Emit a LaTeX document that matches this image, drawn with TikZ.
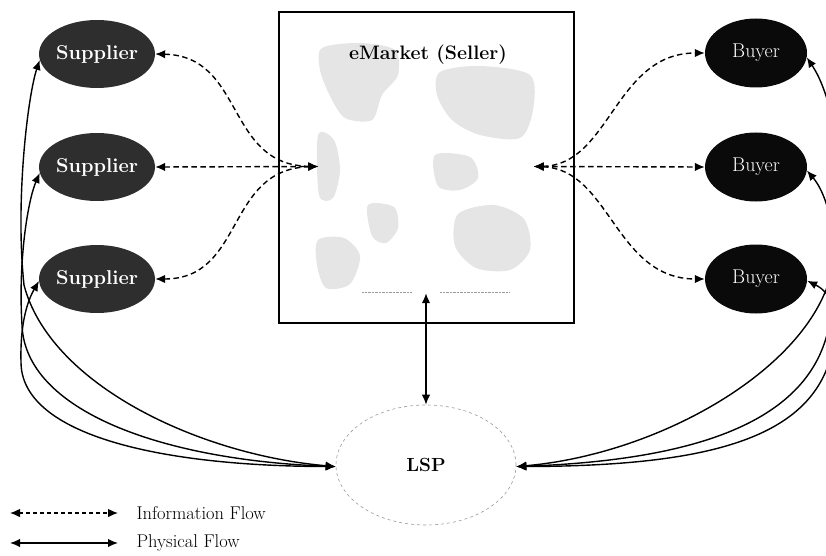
\documentclass[tikz,border=0pt]{standalone}
\usepackage{fontspec}
\usetikzlibrary{arrows.meta,shapes.geometric}
\begin{document}
\begin{tikzpicture}[x=1pt,y=-1pt,
  lbl/.style={font=\fontsize{19}{22}\selectfont},
  supp/.style={ellipse,fill=black!82,text=white,inner sep=0pt,minimum width=102pt,minimum height=68pt,font=\bfseries\fontsize{20}{23}\selectfont},
  buyr/.style={ellipse,fill=black!96,text=white,inner sep=0pt,minimum width=102pt,minimum height=69pt,font=\fontsize{20}{23}\selectfont},
  tipp/.style={{Latex[length=10pt,width=8.5pt]}-{Latex[length=10pt,width=8.5pt]}},
  infoflow/.style={tipp,line width=1.4pt,dash pattern=on 5.5pt off 3.5pt},
  physflow/.style={tipp,line width=1.4pt},
  mapc/.style={fill=black!10}
]
\useasboundingbox (0,0) rectangle (826,556);

% eMarket box and map
\node[draw,line width=1.6pt,minimum width=295pt,minimum height=311pt,inner sep=0pt] (box) at (426.5,167.5) {};
\fill[mapc] plot[smooth cycle] coordinates {(322,48) (360,43) (395,50) (398,75) (382,95) (372,120) (345,118) (330,96) (320,70)};
\fill[mapc] plot[smooth cycle] coordinates {(440,72) (480,66) (530,75) (533,110) (520,138) (480,135) (452,120) (437,95)};
\fill[mapc] plot[smooth cycle] coordinates {(435,155) (470,157) (478,178) (460,190) (438,186)};
\fill[mapc] plot[smooth cycle] coordinates {(318,135) (334,140) (340,170) (333,198) (319,195)};
\fill[mapc] plot[smooth cycle] coordinates {(368,205) (394,207) (398,228) (386,243) (372,236)};
\fill[mapc] plot[smooth cycle] coordinates {(318,240) (344,238) (360,256) (350,284) (326,288) (317,265)};
\fill[mapc] plot[smooth cycle] coordinates {(458,214) (494,205) (524,219) (530,250) (510,270) (476,268) (455,246)};
\draw[black!40,densely dotted] (362,292) -- (412,292) (440,292) -- (510,292);
\node[inner sep=0pt,minimum width=215pt,minimum height=253pt] (map) at (426,166.5) {};
\node[lbl,font=\bfseries\fontsize{19.5}{22}\selectfont] (title) at (428,55) {eMarket (Seller)};

% suppliers and buyers
\node[supp] (s1) at (97,54) {Supplier};
\node[supp] (s2) at (97,167) {Supplier};
\node[supp] (s3) at (97,279) {Supplier};
\node[buyr] (b1) at (756,53) {Buyer};
\node[buyr] (b2) at (756,167) {Buyer};
\node[buyr] (b3) at (756,279) {Buyer};

% LSP
\node[ellipse,draw=black!40,dashed,line width=0.6pt,minimum width=180pt,minimum height=120pt,inner sep=0pt,font=\bfseries\fontsize{19}{22}\selectfont] (lsp) at (426,465) {LSP};

% information flows
\draw[infoflow] (s1.east) .. controls (245,56) and (225,165) .. (map.west);
\draw[infoflow] (s2.east) -- (map.west);
\draw[infoflow] (s3.east) .. controls (245,279) and (225,169) .. (map.west);
\draw[infoflow] (map.east) .. controls (610,165) and (615,53) .. (b1.west);
\draw[infoflow] (map.east) -- (b2.west);
\draw[infoflow] (map.east) .. controls (610,169) and (615,279) .. (b3.west);
\draw[physflow] (map.south) -- (lsp.north);

% physical flows, left
\draw[physflow] (lsp.181) .. controls (200,455) and (50,385) .. (24,285) .. controls (15,200) and (28,95) .. (s1.186);
\draw[physflow] (lsp.181) .. controls (160,460) and (25,410) .. (22,325) .. controls (18,260) and (28,200) .. (s2.186);
\draw[physflow] (lsp.181) .. controls (150,466) and (21,432) .. (21,362) .. controls (20,322) and (28,300) .. (s3.182);
% physical flows, right
\draw[physflow] (lsp.-1) .. controls (650,455) and (790,380) .. (826,290) .. controls (850,230) and (842,110) .. (b1.-5);
\draw[physflow] (lsp.-1) .. controls (700,460) and (815,420) .. (830,320) .. controls (842,260) and (832,200) .. (b2.-4);
\draw[physflow] (lsp.-1) .. controls (705,466) and (812,440) .. (832,352) .. controls (842,312) and (830,292) .. (b3.-2);

% legend
\coordinate (i1) at (10,513); \coordinate (i2) at (118,513);
\coordinate (p1) at (10,543); \coordinate (p2) at (118,543);
\draw[infoflow,line width=1.1pt,dash pattern=on 4pt off 3pt] (i1) -- (i2);
\draw[physflow] (p1) -- (p2);
\node[lbl,anchor=west,font=\fontsize{18.5}{21}\selectfont] (li) at (133,513) {Information Flow};
\node[lbl,anchor=west,font=\fontsize{18.5}{21}\selectfont] (lp) at (133,543) {Physical Flow};
\end{tikzpicture}
\end{document}
